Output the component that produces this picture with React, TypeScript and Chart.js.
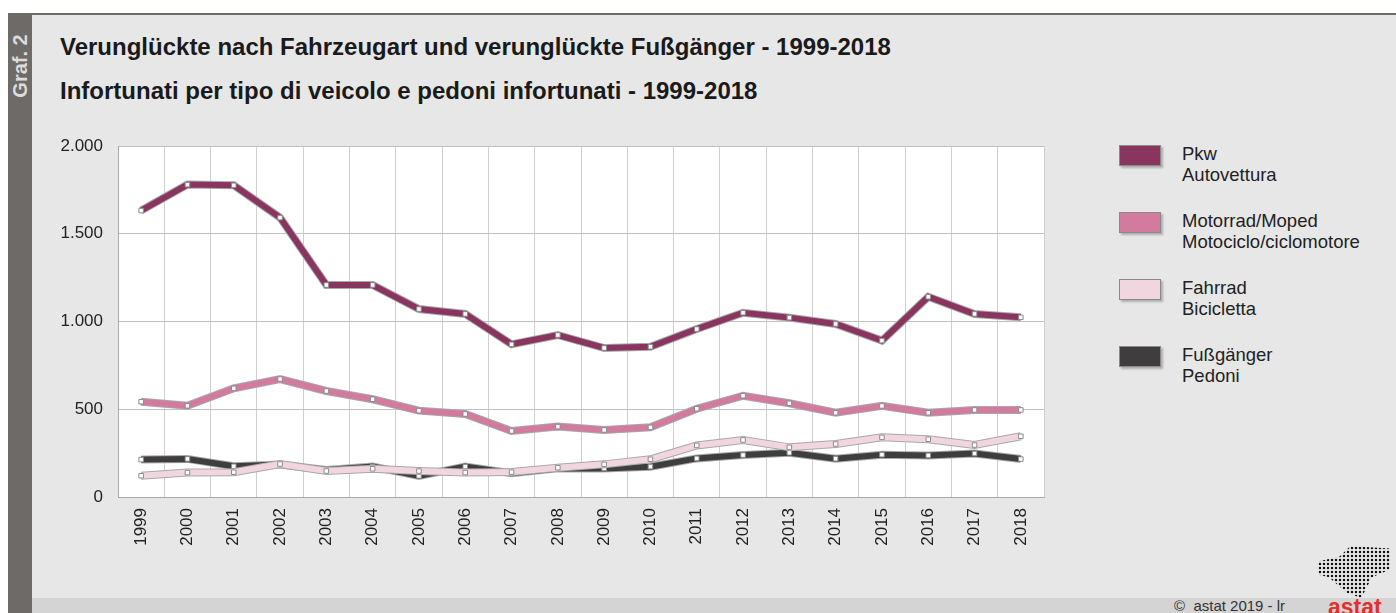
import React, { useEffect, useRef } from "react";
import { Chart, registerables } from "chart.js";

Chart.register(...registerables);

const years = ["1999","2000","2001","2002","2003","2004","2005","2006","2007","2008","2009","2010","2011","2012","2013","2014","2015","2016","2017","2018"];
const pkw = [1632, 1780, 1776, 1592, 1208, 1208, 1071, 1043, 870, 923, 849, 856, 957, 1050, 1022, 986, 891, 1141, 1043, 1024];
const motorrad = [543, 520, 619, 672, 604, 557, 492, 473, 376, 401, 382, 397, 503, 577, 534, 480, 519, 480, 496, 496];
const fahrrad = [121, 139, 141, 188, 148, 161, 148, 139, 142, 167, 186, 215, 294, 325, 283, 302, 340, 329, 296, 346];
const fussgaenger = [213, 217, 175, 185, 154, 173, 120, 173, 135, 163, 163, 173, 220, 239, 252, 218, 241, 237, 248, 216];
const yTickValues = [0, 500, 1000, 1500, 2000];
const yTickLabels = ["0", "500", "1.000", "1.500", "2.000"];

const seriesNames = [
  ["Pkw", "Autovettura"],
  ["Motorrad/Moped", "Motociclo/ciclomotore"],
  ["Fahrrad", "Bicicletta"],
  ["Fußgänger", "Pedoni"],
];
const seriesColors = ["#8a3560", "#d27b9e", "#f1d6e0", "#403d3e"];
const seriesData = [pkw, motorrad, fahrrad, fussgaenger];

const FONT = "'Liberation Sans', Arial, sans-serif";

const plotBg = {
  id: "plotBg",
  beforeDraw(chart: any) {
    const { ctx, chartArea } = chart;
    ctx.save();
    ctx.fillStyle = "#ffffff";
    ctx.fillRect(chartArea.left, chartArea.top, chartArea.right - chartArea.left, chartArea.bottom - chartArea.top);
    ctx.restore();
  },
};

export default function App() {
  const ref = useRef<HTMLCanvasElement>(null);
  useEffect(() => {
    if (!ref.current) return;
    const datasets: any[] = [];
    seriesData.forEach((d, i) => {
      datasets.push({
        label: seriesNames[i][0],
        data: d,
        borderColor: seriesColors[i],
        borderWidth: 6,
        pointStyle: "rect",
        pointRadius: 3.2,
        pointBackgroundColor: "#ffffff",
        pointBorderColor: "#8c8c8c",
        pointBorderWidth: 1,
        tension: 0,
        order: i * 2,
      });
      datasets.push({
        label: seriesNames[i][0] + "_outline",
        data: d,
        borderColor: "#a8a8a8",
        borderWidth: 8,
        pointRadius: 0,
        tension: 0,
        order: i * 2 + 1,
      });
    });
    const chart = new Chart(ref.current, {
      type: "line",
      data: { labels: years, datasets },
      plugins: [plotBg],
      options: {
        animation: false,
        responsive: false,
        maintainAspectRatio: false,
        layout: { padding: { left: 38, top: 146, right: 352, bottom: 46 } },
        plugins: { legend: { display: false }, tooltip: { enabled: false }, title: { display: false } },
        scales: {
          x: {
            type: "category",
            offset: true,
            afterFit: (s: any) => { s.height = 70; },
            grid: { offset: true, color: "#cfcfcf", lineWidth: 1, drawTicks: false },
            border: { color: "#a9a9a9", width: 1 },
            ticks: {
              minRotation: 90,
              maxRotation: 90,
              padding: 11,
              color: "#222222",
              font: { family: FONT, size: 17 },
              autoSkip: false,
            },
          },
          y: {
            min: 0,
            max: 2000,
            afterFit: (s: any) => { s.width = 80; },
            afterBuildTicks: (s: any) => { s.ticks = yTickValues.map((v) => ({ value: v })); },
            grid: { color: "#c2c2c2", lineWidth: 1, drawTicks: false },
            border: { color: "#a9a9a9", width: 1 },
            ticks: {
              padding: 15,
              color: "#222222",
              font: { family: FONT, size: 17 },
              callback: (v: any) => {
                const idx = yTickValues.indexOf(Number(v));
                return idx >= 0 ? yTickLabels[idx] : "";
              },
            },
          },
        },
      },
    });
    return () => chart.destroy();
  }, []);

  const legendTop = [145, 212, 279, 346];

  return (
    <div style={{ position: "absolute", left: 0, top: 0, width: 1396, height: 613, background: "#ffffff", overflow: "hidden", fontFamily: FONT }}>
      <div style={{ position: "absolute", left: 8, top: 13, width: 1388, height: 600, background: "#e7e7e7", borderTop: "2px solid #6f6c6a" }} />
      <div style={{ position: "absolute", left: 8, top: 13, width: 24, height: 600, background: "#6d6a68" }} />
      <div style={{ position: "absolute", left: 32, top: 598, width: 1364, height: 15, background: "#d4d4d4" }} />
      <div style={{ position: "absolute", left: 20, top: 66, transform: "translate(-50%, -50%) rotate(-90deg)", color: "#dcdcdc", fontWeight: "bold", fontSize: 20, whiteSpace: "nowrap" }}>Graf. 2</div>
      <div style={{ position: "absolute", left: 60, top: 33, fontSize: 24, fontWeight: "bold", color: "#1a1a1a", whiteSpace: "nowrap" }}>Verunglückte nach Fahrzeugart und verunglückte Fußgänger - 1999-2018</div>
      <div style={{ position: "absolute", left: 60, top: 77, fontSize: 24, fontWeight: "bold", color: "#1a1a1a", whiteSpace: "nowrap" }}>Infortunati per tipo di veicolo e pedoni infortunati - 1999-2018</div>
      {seriesNames.map((n, i) => (
        <React.Fragment key={i}>
          <div style={{ position: "absolute", left: 1119, top: legendTop[i], width: 40, height: 19, background: seriesColors[i], border: "1px solid #8a8a8a", boxShadow: "2px 2px 2px rgba(0,0,0,0.25)" }} />
          <div style={{ position: "absolute", left: 1182, top: legendTop[i] - 2, fontSize: 18.5, lineHeight: "21px", color: "#222222", whiteSpace: "nowrap" }}>
            {n[0]}<br />{n[1]}
          </div>
        </React.Fragment>
      ))}
      <div style={{ position: "absolute", left: 1174, top: 597, fontSize: 15, color: "#333333", whiteSpace: "nowrap" }}>©&nbsp; astat 2019 - lr</div>
      <div style={{ position: "absolute", left: 1318, top: 546, width: 72, height: 52, backgroundImage: "radial-gradient(circle, #111 1.4px, transparent 1.6px)", backgroundSize: "4px 4px", clipPath: "polygon(0% 30%, 30% 20%, 45% 0%, 100% 5%, 100% 45%, 75% 60%, 60% 100%, 40% 90%, 15% 60%, 0% 55%)" }} />
      <div style={{ position: "absolute", left: 1328, top: 594, fontSize: 23, fontWeight: "bold", color: "#e0312a", whiteSpace: "nowrap" }}>astat</div>
      <canvas ref={ref} width={1396} height={613} style={{ position: "absolute", left: 0, top: 0, width: 1396, height: 613 }} />
    </div>
  );
}
